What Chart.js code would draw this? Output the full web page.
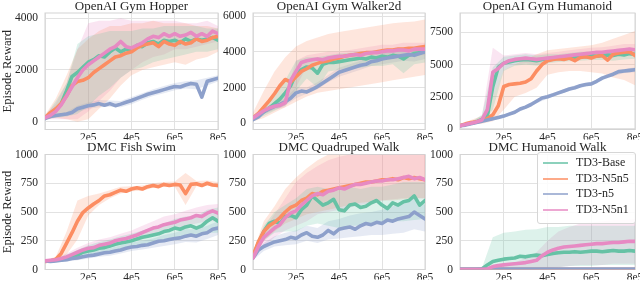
<!DOCTYPE html>
<html>
<head>
<meta charset="utf-8">
<script src="https://cdn.jsdelivr.net/npm/chart.js@4.4.1/dist/chart.umd.min.js"></script>
<style>
  html, body { margin: 0; padding: 0; background: #fff; }
  #fig { position: relative; width: 640px; height: 282px; overflow: hidden;
         font-family: "Liberation Serif", "Times New Roman", serif; color: #262626; }
  #fig canvas { position: absolute; left: 0; top: 0; }
  .ttl { position: absolute; font-size: 13px; line-height: 13px; white-space: nowrap; transform: translateX(-50%); }
  .legend { position: absolute; left: 537px; top: 152px; width: 97px; height: 70px;
            border: 1px solid #d6d6d6; border-radius: 3px; background: rgba(255,255,255,0.85);
            font-family: "Liberation Serif", "Times New Roman", serif; }
  .legend .row { position: absolute; left: 0; height: 15px; line-height: 15px; font-size: 12px; white-space: nowrap; }
  .legend .swatch { position: absolute; left: 5px; top: 7px; width: 25px; height: 2px; opacity: 0.75; }
  .legend .lbl { position: absolute; left: 38px; top: 0; }
</style>
</head>
<body>
<div id="fig"></div>
<script>
// x positions in units of 1e5 steps
var X = [0, 0.25, 0.5, 0.75, 1, 1.25, 1.5, 1.75, 2, 2.25, 2.5, 2.75, 3, 3.25, 3.5, 3.75, 4,
         4.25, 4.5, 4.75, 5, 5.25, 5.5, 5.75, 6, 6.25, 6.5, 6.75, 7, 7.25, 7.5, 7.75, 8];
// coarser x grid for the shaded bands
var BX = [0, 0.5, 1, 1.5, 2, 2.5, 3, 3.5, 4, 4.5, 5, 5.5, 6, 6.5, 7, 7.5, 8];
var X_TICKS = [0, 2, 4, 6, 8];

var SERIES = ['TD3-Base', 'TD3-N5n5', 'TD3-n5', 'TD3-N5n1'];

var HOPPER_TICKS = [0, 2000, 4000];
var WALKER_TICKS = [0, 2000, 4000, 6000];
var HUMANOID_TICKS = [0, 2500, 5000, 7500];
var DMC_TICKS = [0, 250, 500, 750, 1000];

// ---- OpenAI Gym Hopper
var HOPPER_BASE = [140,300,450,700,1200,1750,1900,2100,2300,2400,2550,2500,2700,2850,2700,2800,2750,2950,2900,3050,3100,3000,3150,3100,3150,3050,3200,3100,3200,3150,3200,3250,3150];
var HOPPER_N5N5 = [150,350,500,700,1000,1400,1550,1600,1700,1900,2050,2200,2350,2500,2550,2650,2700,2850,2950,3000,3050,2900,3100,3000,2950,3100,3000,3050,3200,3100,3150,3250,3300];
var HOPPER_N5 = [120,200,240,270,300,360,500,560,620,650,700,640,700,620,680,750,820,900,980,1060,1120,1180,1240,1300,1360,1340,1420,1480,1450,950,1560,1620,1680];
var HOPPER_N5N1 = [150,250,400,650,1000,1350,1700,2000,2200,2350,2500,2650,2800,2900,3100,2900,2850,2950,3050,3200,3300,3250,3400,3300,3400,3300,3350,3450,3300,3400,3300,3500,3400];
var HOPPER_BASE_LO = [100,150,200,300,600,1000,1300,1700,2000,2100,2300,2400,2500,2600,2700,2700,2800];
var HOPPER_BASE_HI = [200,800,1500,3000,3300,3400,3500,3500,3500,3600,3600,3700,3700,3700,3700,3600,3600];
var HOPPER_N5N5_LO = [100,150,100,0,100,500,900,1400,1800,2000,2100,2200,2300,2200,2400,2500,2700];
var HOPPER_N5N5_HI = [250,900,1800,2800,3200,3500,3700,3700,3800,3800,3900,3800,3800,3800,3700,3700,3600];
var HOPPER_N5_LO = [100,200,230,380,500,560,580,560,680,850,990,1100,1220,1280,1250,1400,1550];
var HOPPER_N5_HI = [150,290,380,620,740,840,820,800,960,1100,1250,1380,1500,1560,1600,1700,1800];
var HOPPER_N5N1_LO = [100,100,100,100,400,800,1200,1700,2000,2300,2500,2600,2800,2800,2900,3000,3100];
var HOPPER_N5N1_HI = [250,700,1500,2800,3800,3900,3900,4000,3900,3900,3900,3900,3900,3800,3800,3900,3700];

// ---- OpenAI Gym Walker2d
var WALKER_BASE = [250,450,650,850,1100,1350,1700,2100,2800,3000,3150,3100,2800,3300,3400,3400,3450,3500,3550,3600,3650,3600,3700,3650,3750,3700,3800,3750,3600,3800,3900,3950,4000];
var WALKER_N5N5 = [300,550,900,1250,1650,2100,2450,2300,2600,2900,3050,3250,3350,3450,3500,3600,3650,3750,3800,3850,3900,3950,3950,4000,4050,4100,4100,4150,4150,4200,4200,4250,4300];
var WALKER_N5 = [200,350,650,800,950,1050,1200,1400,1700,1800,1750,1900,2050,2250,2450,2650,2850,2950,3050,3150,3250,3300,3450,3500,3600,3650,3700,3750,3800,3850,3800,3900,4000];
var WALKER_N5N1 = [300,500,700,850,950,1000,1150,2400,2900,3400,3500,3550,3600,3550,3650,3700,3750,3750,3800,3850,3800,3900,3950,3950,4000,4050,4050,4100,4100,4050,4150,4150,4150];
var WALKER_BASE_LO = [150,400,700,1000,1800,2500,2000,2900,3000,3100,3100,3200,3200,3300,2800,3300,3400];
var WALKER_BASE_HI = [400,900,1500,2400,3500,3700,3700,3800,3900,3950,4000,4050,4100,4150,4200,4250,4300];
var WALKER_N5N5_LO = [100,300,600,900,1200,1500,1700,1800,1900,2000,2100,2200,2300,2400,2500,2600,2700];
var WALKER_N5N5_HI = [600,1800,2900,3700,4300,4600,4800,5000,5100,5200,5300,5400,5500,5600,5650,5700,5800];
var WALKER_N5_LO = [150,500,800,1000,1400,1650,1900,2300,2600,2800,3000,3200,3300,3400,3500,3450,3600];
var WALKER_N5_HI = [300,800,1100,1400,2000,2000,2300,2700,3100,3300,3500,3700,3900,4000,4100,4100,4300];
var WALKER_N5N1_LO = [200,500,750,900,2000,3200,3300,3400,3500,3500,3500,3600,3600,3700,3700,3800,3800];
var WALKER_N5N1_HI = [400,900,1100,1500,3500,3800,3900,4000,4000,4100,4200,4300,4400,4400,4500,4500,4500];

// ---- OpenAI Gym Humanoid
var HUMANOID_BASE = [250,350,450,550,750,1000,3300,4800,5100,5200,5300,5350,5400,5350,5300,5400,5450,5500,5500,5550,5600,5550,5650,5600,5700,5650,5700,5750,5700,5800,5750,5850,5800];
var HUMANOID_N5N5 = [250,400,500,550,650,800,1100,1800,3300,3450,3500,3550,3650,3900,4500,5000,5300,5400,5450,5400,5500,5300,5550,5600,5500,5650,5700,5350,5800,5900,5950,6000,5700];
var HUMANOID_N5 = [250,300,400,500,600,700,800,900,1000,1150,1300,1550,1700,1900,2150,2400,2500,2650,2800,2950,3100,3200,3350,3450,3500,3700,3950,4100,4250,4450,4500,4550,4600];
var HUMANOID_N5N1 = [250,350,450,550,700,1500,4400,4700,5100,5300,5400,5450,5500,5450,5400,5450,5500,5550,5600,5650,5700,5750,5800,5850,5900,5950,5950,6000,6050,6100,6150,6200,6150];
var HUMANOID_BASE_LO = [180,350,500,1500,4500,4900,5000,4900,5100,5200,5250,5300,5350,5350,5300,5400,5450];
var HUMANOID_BASE_HI = [320,550,1100,4800,5600,5700,5800,5700,5800,5800,5900,6000,6000,6050,6100,6100,6150];
var HUMANOID_N5N5_LO = [180,350,400,600,1500,2500,2800,3200,4200,4400,4500,4500,4400,4300,4000,3800,3400];
var HUMANOID_N5N5_HI = [320,700,1000,2500,4600,5000,5400,5800,6100,6200,6300,6400,6500,6700,7000,7300,7600];
var HUMANOID_N5_LO = [200,350,520,700,880,1180,1550,2000,2350,2650,2950,3200,3350,3800,4100,4350,4400];
var HUMANOID_N5_HI = [300,450,680,900,1120,1420,1850,2300,2650,2950,3250,3500,3650,4100,4400,4650,4800];
var HUMANOID_N5N1_LO = [180,350,450,2500,4600,5000,5100,5000,5200,5300,5400,5500,5550,5600,5650,5700,5700];
var HUMANOID_N5N1_HI = [320,550,1000,6300,5700,5800,5900,5800,5900,6000,6100,6200,6300,6350,6450,6600,6600];

// ---- DMC Fish Swim
var FISH_BASE = [75,75,80,85,95,110,125,150,160,170,185,190,205,220,230,240,250,265,280,290,300,310,330,340,360,350,370,380,360,380,420,450,420];
var FISH_N5N5 = [70,75,90,140,230,320,420,495,535,570,600,640,650,670,690,680,700,710,700,720,730,720,740,730,740,735,660,740,745,730,750,735,730];
var FISH_N5 = [75,70,75,80,85,95,100,110,120,125,135,145,150,160,170,185,195,200,210,215,230,245,250,260,270,275,290,300,290,310,320,350,360];
var FISH_N5N1 = [75,80,85,95,110,130,150,170,185,190,210,220,230,250,260,270,285,300,320,340,360,370,390,400,410,430,440,450,470,460,490,510,490];
var FISH_BASE_LO = [70,70,75,95,120,140,160,180,200,220,240,260,280,290,280,320,320];
var FISH_BASE_HI = [80,95,130,170,210,240,260,290,310,340,370,400,440,460,460,520,540];
var FISH_N5N5_LO = [65,75,130,260,470,560,620,660,680,685,710,720,720,560,725,730,710];
var FISH_N5N5_HI = [80,110,330,600,640,660,690,720,725,730,750,760,765,840,770,775,760];
var FISH_N5_LO = [70,65,70,80,95,110,120,140,160,175,190,205,220,240,235,265,300];
var FISH_N5_HI = [80,85,100,125,150,165,185,210,235,250,270,300,320,350,350,380,420];
var FISH_N5N1_LO = [70,75,90,120,150,170,190,220,240,270,300,330,350,380,400,420,420];
var FISH_N5N1_HI = [80,100,140,190,230,260,280,310,340,380,420,460,480,510,540,560,570];

// ---- DMC Quadruped Walk
var QUAD_BASE = [110,230,330,400,420,400,460,470,450,520,560,640,600,560,580,610,520,510,560,570,540,550,580,600,560,530,580,560,590,600,640,560,600];
var QUAD_N5N5 = [120,240,330,380,410,450,500,540,560,600,620,660,650,680,690,700,710,720,730,740,750,760,760,770,780,780,790,780,800,790,800,790,780];
var QUAD_N5 = [100,170,200,220,240,250,260,280,270,300,320,290,280,300,340,310,350,360,370,350,380,400,390,410,400,430,420,440,450,460,500,470,440];
var QUAD_N5N1 = [100,200,280,320,360,390,450,490,510,560,600,640,660,650,680,690,710,700,720,740,740,750,760,770,770,780,780,790,800,810,790,800,780];
var QUAD_BASE_LO = [90,250,320,330,330,380,400,380,360,380,380,400,400,420,420,430,440];
var QUAD_BASE_HI = [130,380,500,560,620,700,720,700,700,720,700,720,720,740,760,760,760];
var QUAD_N5N5_LO = [100,250,330,400,440,480,500,520,540,560,580,590,600,600,610,620,620];
var QUAD_N5N5_HI = [150,420,550,700,800,880,950,1000,1000,1000,1000,1000,1000,1000,1000,1000,1000];
var QUAD_N5_LO = [80,160,200,210,220,250,230,260,270,280,290,300,300,310,320,350,330];
var QUAD_N5_HI = [120,230,290,320,340,380,360,420,440,470,490,500,520,550,580,620,560];
var QUAD_N5N1_LO = [80,200,280,340,380,420,480,500,520,540,560,580,600,610,620,620,620];
var QUAD_N5N1_HI = [120,350,480,620,760,840,900,950,980,1000,1000,1000,1000,1000,1000,1000,1000];

// ---- DMC Humanoid Walk
var HWALK_BASE = [0,0,0,0,5,40,70,80,90,95,100,115,110,120,125,120,130,140,145,150,150,155,150,155,160,160,155,160,165,160,160,165,160];
var HWALK_N5N5 = [2,2,2,2,2,2,2,2,2,2,2,2,2,2,2,2,2,2,2,2,2,2,2,2,2,2,2,2,2,2,2,2,2];
var HWALK_N5 = [4,4,4,4,4,4,4,4,4,4,4,4,4,4,4,4,4,4,4,4,4,4,4,4,4,4,4,4,4,4,4,4,4];
var HWALK_N5N1 = [0,0,0,0,0,5,25,35,40,45,50,55,60,70,80,120,150,170,185,195,200,205,210,215,220,225,225,230,235,235,240,245,245];
var HWALK_BASE_LO = [0,0,0,0,0,0,0,5,10,20,30,30,30,40,40,40,40];
var HWALK_BASE_HI = [0,0,10,280,320,330,345,350,370,370,380,380,380,380,380,380,380];
var HWALK_N5N1_LO = [0,0,0,0,0,0,0,0,10,20,30,40,40,40,50,50,50];
var HWALK_N5N1_HI = [0,0,0,0,20,60,100,150,250,330,370,400,410,420,430,430,440];

(function () {
  'use strict';
  var FONT = '"Liberation Serif", "Times New Roman", serif';
  var TXT = '#262626';
  var GRID = '#e2e2e2';
  var SPINE = '#d4d4d4';
  var COLORS = ['#66c2a5', '#fc8d62', '#8da0cb', '#e78ac3'];
  var LINE_ORDER = [4, 3, 2, 1];   // lower order drawn on top -> pink on top
  var BAND_ALPHA = 0.22;
  var YW = 45;   // y axis box width
  var XH = 10;   // x axis box height
  var ROW1 = [13, 129.5];
  var ROW2 = [154.5, 269.5];

  var panels = [
    { title: 'OpenAI Gym Hopper', cols: [45, 218], rows: ROW1, yMin: -300, yMax: 4200, ticks: HOPPER_TICKS, ylabel: true,
      mean: [HOPPER_BASE, HOPPER_N5N5, HOPPER_N5, HOPPER_N5N1],
      lo: [HOPPER_BASE_LO, HOPPER_N5N5_LO, HOPPER_N5_LO, HOPPER_N5N1_LO],
      hi: [HOPPER_BASE_HI, HOPPER_N5N5_HI, HOPPER_N5_HI, HOPPER_N5N1_HI] },
    { title: 'OpenAI Gym Walker2d', cols: [253, 425], rows: ROW1, yMin: -350, yMax: 6170, ticks: WALKER_TICKS,
      mean: [WALKER_BASE, WALKER_N5N5, WALKER_N5, WALKER_N5N1],
      lo: [WALKER_BASE_LO, WALKER_N5N5_LO, WALKER_N5_LO, WALKER_N5N1_LO],
      hi: [WALKER_BASE_HI, WALKER_N5N5_HI, WALKER_N5_HI, WALKER_N5N1_HI] },
    { title: 'OpenAI Gym Humanoid', cols: [460, 635], rows: ROW1, yMin: -40, yMax: 9000, ticks: HUMANOID_TICKS,
      mean: [HUMANOID_BASE, HUMANOID_N5N5, HUMANOID_N5, HUMANOID_N5N1],
      lo: [HUMANOID_BASE_LO, HUMANOID_N5N5_LO, HUMANOID_N5_LO, HUMANOID_N5N1_LO],
      hi: [HUMANOID_BASE_HI, HUMANOID_N5N5_HI, HUMANOID_N5_HI, HUMANOID_N5N1_HI] },
    { title: 'DMC Fish Swim', cols: [45, 218], rows: ROW2, yMin: 0, yMax: 1000, ticks: DMC_TICKS, ylabel: true,
      mean: [FISH_BASE, FISH_N5N5, FISH_N5, FISH_N5N1],
      lo: [FISH_BASE_LO, FISH_N5N5_LO, FISH_N5_LO, FISH_N5N1_LO],
      hi: [FISH_BASE_HI, FISH_N5N5_HI, FISH_N5_HI, FISH_N5N1_HI] },
    { title: 'DMC Quadruped Walk', cols: [253, 425], rows: ROW2, yMin: 0, yMax: 1000, ticks: DMC_TICKS,
      mean: [QUAD_BASE, QUAD_N5N5, QUAD_N5, QUAD_N5N1],
      lo: [QUAD_BASE_LO, QUAD_N5N5_LO, QUAD_N5_LO, QUAD_N5N1_LO],
      hi: [QUAD_BASE_HI, QUAD_N5N5_HI, QUAD_N5_HI, QUAD_N5N1_HI] },
    { title: 'DMC Humanoid Walk', cols: [460, 635], rows: ROW2, yMin: 0, yMax: 1000, ticks: DMC_TICKS,
      mean: [HWALK_BASE, HWALK_N5N5, HWALK_N5, HWALK_N5N1],
      lo: [HWALK_BASE_LO, null, null, HWALK_N5N1_LO],
      hi: [HWALK_BASE_HI, null, null, HWALK_N5N1_HI] }
  ];

  function rgba(hex, a) {
    var n = parseInt(hex.slice(1), 16);
    return 'rgba(' + (n >> 16 & 255) + ',' + (n >> 8 & 255) + ',' + (n & 255) + ',' + a + ')';
  }

  function pts(xs, ys) {
    return xs.map(function (x, i) { return { x: x, y: ys[i] }; });
  }

  function buildDatasets(p) {
    var ds = [];
    p.mean.forEach(function (m, i) {
      if (!p.lo[i]) return;
      ds.push({ data: pts(BX, p.lo[i]), borderWidth: 0, pointRadius: 0, fill: false, order: 20 });
      ds.push({ data: pts(BX, p.hi[i]), borderWidth: 0, pointRadius: 0, fill: '-1',
                backgroundColor: rgba(COLORS[i], BAND_ALPHA), order: 20 });
    });
    p.mean.forEach(function (m, i) {
      ds.push({ label: SERIES[i], data: pts(X, m), borderColor: COLORS[i], borderWidth: 3.6,
                borderJoinStyle: 'round', borderCapStyle: 'round',
                pointRadius: 0, fill: false, order: LINE_ORDER[i] });
    });
    return ds;
  }

  var spinePlugin = {
    id: 'spines',
    beforeDatasetsDraw: function (chart) {
      var a = chart.chartArea, ctx = chart.ctx;
      ctx.save();
      ctx.strokeStyle = SPINE;
      ctx.lineWidth = 1;
      ctx.strokeRect(a.left, a.top, a.right - a.left, a.bottom - a.top);
      ctx.restore();
    }
  };

  var fig = document.getElementById('fig');

  panels.forEach(function (p) {
    var L = p.cols[0], R = p.cols[1], T = p.rows[0], B = p.rows[1];
    var canvas = document.createElement('canvas');
    canvas.width = 640;
    canvas.height = 282;
    fig.appendChild(canvas);

    new Chart(canvas, {
      type: 'line',
      data: { datasets: buildDatasets(p) },
      options: {
        responsive: false,
        animation: false,
        devicePixelRatio: 1,
        layout: { padding: { left: L - YW, right: 640 - R, top: T, bottom: 282 - B - XH } },
        plugins: { legend: { display: false }, tooltip: { enabled: false }, title: { display: false } },
        scales: {
          x: {
            type: 'linear', min: 0, max: 8,
            grid: { color: GRID, lineWidth: 1, drawTicks: false },
            border: { display: false },
            ticks: {
              color: TXT, font: { family: FONT, size: 11.5 }, padding: 1.5,
              maxRotation: 0, autoSkip: false,
              callback: function (v) { return v ? v + 'e5' : ''; }
            },
            afterBuildTicks: function (s) { s.ticks = X_TICKS.map(function (v) { return { value: v }; }); },
            afterFit: function (s) { s.height = XH; s.paddingLeft = 0; s.paddingRight = 0; }
          },
          y: {
            min: p.yMin, max: p.yMax,
            grid: { color: GRID, lineWidth: 1, drawTicks: false },
            border: { display: false },
            ticks: {
              color: TXT, font: { family: FONT, size: 11.5 }, padding: 7,
              callback: function (v) { return String(v); }
            },
            title: {
              display: !!p.ylabel, text: 'Episode Reward', color: TXT,
              font: { family: FONT, size: 12.5 }, padding: { top: 0, bottom: 0 }
            },
            afterBuildTicks: function (s) { s.ticks = p.ticks.map(function (v) { return { value: v }; }); },
            afterFit: function (s) { s.width = YW; s.paddingTop = 0; s.paddingBottom = 0; }
          }
        }
      },
      plugins: [spinePlugin]
    });

    var t = document.createElement('div');
    t.className = 'ttl';
    t.textContent = p.title;
    t.style.left = ((L + R) / 2) + 'px';
    t.style.top = (T - 14.5) + 'px';
    fig.appendChild(t);
  });

  // legend inside the last panel
  var legend = document.createElement('div');
  legend.className = 'legend';
  var rowTops = [2, 17.5, 33, 48.5];
  SERIES.forEach(function (name, i) {
    var row = document.createElement('div');
    row.className = 'row';
    row.style.top = rowTops[i] + 'px';
    row.innerHTML = '<span class="swatch" style="background:' + COLORS[i] + '"></span><span class="lbl"></span>';
    row.querySelector('.lbl').textContent = name;
    legend.appendChild(row);
  });
  fig.appendChild(legend);
})();
</script>
</body>
</html>
